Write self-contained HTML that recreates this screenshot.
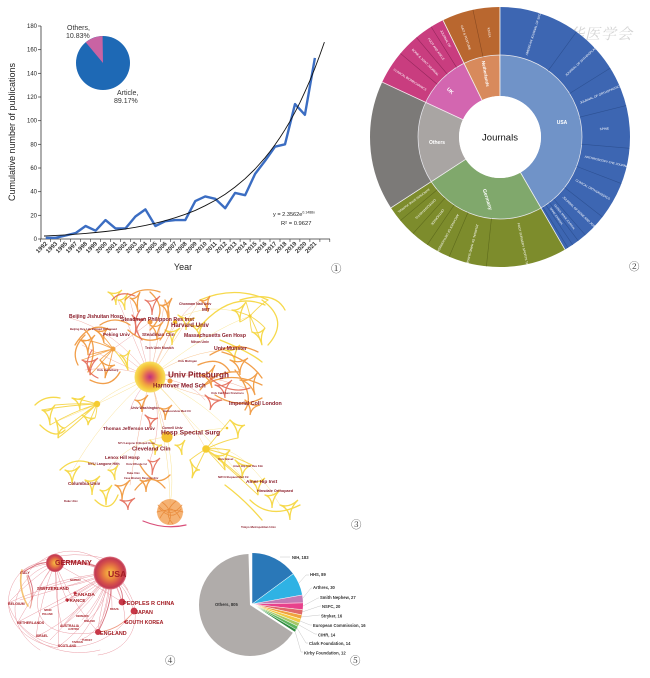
<!DOCTYPE html>
<html><head><meta charset="utf-8">
<style>
html,body{margin:0;padding:0;background:#fff;}
svg{display:block;font-family:"Liberation Sans","Noto Sans CJK SC",sans-serif;}
.t3 text{font-weight:bold;fill:#8b1e2b;}
.t4 text{font-weight:bold;fill:#a31d24;}
.t5 text{font-weight:bold;fill:#333;font-size:4.2px;}
.cd{font-family:"Liberation Serif","Noto Serif CJK SC",serif;font-size:10.5px;fill:#333;}
</style></head>
<body>
<svg width="650" height="678" viewBox="0 0 650 678" xmlns="http://www.w3.org/2000/svg">
<defs>
<radialGradient id="gBig" cx="50%" cy="50%" r="50%">
<stop offset="0" stop-color="#bf2f7c"/><stop offset="0.28" stop-color="#e0605e"/><stop offset="0.55" stop-color="#f0a040"/><stop offset="0.8" stop-color="#f5cb3e"/><stop offset="1" stop-color="#f8df66"/>
</radialGradient>
<radialGradient id="gCty" cx="50%" cy="50%" r="50%">
<stop offset="0" stop-color="#f7c24a"/><stop offset="0.35" stop-color="#ec8a3e"/><stop offset="0.7" stop-color="#d44e4a"/><stop offset="0.9" stop-color="#c23a52"/><stop offset="1" stop-color="#e07a86"/>
</radialGradient>
</defs>

<!-- ================= PANEL 1 ================= -->
<g>
<line x1="41" y1="26" x2="41" y2="239" stroke="#333" stroke-width="0.8"/>
<line x1="41" y1="239" x2="330" y2="239" stroke="#333" stroke-width="0.8"/>
<g stroke="#333" stroke-width="0.7">
<line x1="38" y1="239" x2="41" y2="239"/><line x1="38" y1="215.3" x2="41" y2="215.3"/><line x1="38" y1="191.7" x2="41" y2="191.7"/><line x1="38" y1="168" x2="41" y2="168"/><line x1="38" y1="144.3" x2="41" y2="144.3"/><line x1="38" y1="120.7" x2="41" y2="120.7"/><line x1="38" y1="97" x2="41" y2="97"/><line x1="38" y1="73.3" x2="41" y2="73.3"/><line x1="38" y1="49.7" x2="41" y2="49.7"/><line x1="38" y1="26" x2="41" y2="26"/>
</g>
<g stroke="#333" stroke-width="0.6">
<path d="M40.7 239v3M50.7 239v3M60.6 239v3M70.6 239v3M80.6 239v3M90.6 239v3M100.5 239v3M110.5 239v3M120.5 239v3M130.4 239v3M140.4 239v3M150.4 239v3M160.3 239v3M170.3 239v3M180.3 239v3M190.3 239v3M200.2 239v3M210.2 239v3M220.2 239v3M230.1 239v3M240.1 239v3M250.1 239v3M260 239v3M270 239v3M280 239v3M290 239v3M299.9 239v3M309.9 239v3M319.9 239v3M329.8 239v3"/>
</g>
<g font-size="6" fill="#222" text-anchor="end">
<text x="37" y="241">0</text><text x="37" y="217.3">20</text><text x="37" y="193.7">40</text><text x="37" y="170">60</text><text x="37" y="146.3">80</text><text x="37" y="122.7">100</text><text x="37" y="99">120</text><text x="37" y="75.3">140</text><text x="37" y="51.7">160</text><text x="37" y="28">180</text>
</g>
<g font-size="6" fill="#333" text-anchor="end" font-weight="bold">
<text transform="translate(47.7 244) rotate(-45)">1992</text>
<text transform="translate(57.7 244) rotate(-45)">1993</text>
<text transform="translate(67.6 244) rotate(-45)">1995</text>
<text transform="translate(77.6 244) rotate(-45)">1997</text>
<text transform="translate(87.6 244) rotate(-45)">1998</text>
<text transform="translate(97.6 244) rotate(-45)">1999</text>
<text transform="translate(107.5 244) rotate(-45)">2000</text>
<text transform="translate(117.5 244) rotate(-45)">2001</text>
<text transform="translate(127.5 244) rotate(-45)">2002</text>
<text transform="translate(137.4 244) rotate(-45)">2003</text>
<text transform="translate(147.4 244) rotate(-45)">2004</text>
<text transform="translate(157.4 244) rotate(-45)">2005</text>
<text transform="translate(167.3 244) rotate(-45)">2006</text>
<text transform="translate(177.3 244) rotate(-45)">2007</text>
<text transform="translate(187.3 244) rotate(-45)">2008</text>
<text transform="translate(197.3 244) rotate(-45)">2009</text>
<text transform="translate(207.2 244) rotate(-45)">2010</text>
<text transform="translate(217.2 244) rotate(-45)">2011</text>
<text transform="translate(227.2 244) rotate(-45)">2012</text>
<text transform="translate(237.1 244) rotate(-45)">2013</text>
<text transform="translate(247.1 244) rotate(-45)">2014</text>
<text transform="translate(257.1 244) rotate(-45)">2015</text>
<text transform="translate(267 244) rotate(-45)">2016</text>
<text transform="translate(277 244) rotate(-45)">2017</text>
<text transform="translate(287 244) rotate(-45)">2018</text>
<text transform="translate(297 244) rotate(-45)">2019</text>
<text transform="translate(306.9 244) rotate(-45)">2020</text>
<text transform="translate(316.9 244) rotate(-45)">2021</text>
</g>
<text transform="translate(15 132) rotate(-90)" font-size="9" fill="#222" text-anchor="middle">Cumulative number of publications</text>
<text x="183" y="270" font-size="9" fill="#222" text-anchor="middle">Year</text>
<polyline fill="none" stroke="#3b6dc2" stroke-width="2.4" stroke-linejoin="round" points="45.7,237.8 55.7,237.8 65.6,235.5 75.6,233.1 85.6,226 95.6,230.7 105.5,220.1 115.5,228.4 125.5,228.4 135.4,216.5 145.4,209.4 155.4,226 165.3,221.2 175.3,220.1 185.3,220.1 195.3,201.1 205.2,196.4 215.2,198.8 225.2,208.2 235.1,192.9 245.1,195.2 255.1,173.9 265,160.9 275,146.7 285,144.3 295,104.1 304.9,114.8 314.9,57.9"/>
<polyline fill="none" stroke="#111" stroke-width="0.9" points="44,236 45.7,235.9 55.7,235.4 65.6,234.9 75.6,234.2 85.6,233.4 95.6,232.5 105.5,231.5 115.5,230.3 125.5,228.9 135.4,227.3 145.4,225.4 155.4,223.2 165.3,220.7 175.3,217.7 185.3,214.3 195.3,210.4 205.2,205.7 215.2,200.4 225.2,194.2 235.1,187 245.1,178.7 255.1,169 265,157.8 270,151.5 275,144.8 280,137.5 285,129.7 290,121.3 295,112.2 300,102.4 304.9,91.8 310,80.3 314.9,68.2 319.9,54.9 324.4,42.1"/>
<text x="273" y="216" font-size="5.6" fill="#222">y = 2.3562e<tspan font-size="3.5" dy="-2.5">0.1488x</tspan></text>
<text x="281" y="225" font-size="5.8" fill="#222">R² = 0.9627</text>
<!-- inset pie -->
<circle cx="103" cy="63" r="27" fill="#1e69b5"/>
<circle cx="103" cy="63" r="13.5" fill="none" stroke="#c963a3" stroke-width="27" pathLength="360" stroke-dasharray="39 400" stroke-dashoffset="-321" transform="rotate(-90 103 63)"/>
<text x="67" y="30" font-size="7" fill="#333">Others,</text>
<text x="66" y="38" font-size="7" fill="#333">10.83%</text>
<text x="117" y="95" font-size="7" fill="#333">Article,</text>
<text x="114" y="103" font-size="7" fill="#333">89.17%</text>
<text x="331" y="272" class="cd">①</text>
</g>

<!-- ================= PANEL 2 sunburst ================= -->
<g>
<circle cx="533" cy="32" r="11" fill="none" stroke="#dcdcdc" stroke-width="0.8"/>
<circle cx="533" cy="32" r="7" fill="none" stroke="#e2e2e2" stroke-width="0.6"/>
<text x="553" y="39" font-size="15" fill="#d4d4d4" font-style="italic" font-family="'Noto Serif CJK SC',serif" letter-spacing="1">中华医学会</text>
<g fill="none" transform="rotate(-90 500 137)">
<circle cx="500" cy="137" r="61.5" pathLength="360" stroke="#7093c8" stroke-dasharray="150 400" stroke-dashoffset="0" stroke-width="41"/>
<circle cx="500" cy="137" r="61.5" pathLength="360" stroke="#80a86c" stroke-dasharray="87 400" stroke-dashoffset="-150" stroke-width="41"/>
<circle cx="500" cy="137" r="61.5" pathLength="360" stroke="#a9a5a3" stroke-dasharray="58 400" stroke-dashoffset="-237" stroke-width="41"/>
<circle cx="500" cy="137" r="61.5" pathLength="360" stroke="#d366b0" stroke-dasharray="39 400" stroke-dashoffset="-295" stroke-width="41"/>
<circle cx="500" cy="137" r="61.5" pathLength="360" stroke="#d88a5c" stroke-dasharray="26 400" stroke-dashoffset="-334" stroke-width="41"/>
<circle cx="500" cy="137" r="106" pathLength="360" stroke="#3d66b2" stroke-dasharray="150 400" stroke-dashoffset="0" stroke-width="48"/>
<circle cx="500" cy="137" r="106" pathLength="360" stroke="#7d8c2c" stroke-dasharray="87 400" stroke-dashoffset="-150" stroke-width="48"/>
<circle cx="500" cy="137" r="106" pathLength="360" stroke="#7c7a78" stroke-dasharray="58 400" stroke-dashoffset="-237" stroke-width="48"/>
<circle cx="500" cy="137" r="106" pathLength="360" stroke="#c93d7f" stroke-dasharray="39 400" stroke-dashoffset="-295" stroke-width="48"/>
<circle cx="500" cy="137" r="106" pathLength="360" stroke="#b9672f" stroke-dasharray="26 400" stroke-dashoffset="-334" stroke-width="48"/>
</g>
<circle cx="500" cy="137" r="82" fill="none" stroke="#e8e8ee" stroke-width="0.7"/>
<g stroke="#f2f2f2" stroke-width="0.8">
<line x1="500" y1="96" x2="500" y2="7" transform="rotate(0 500 137)"/>
<line x1="500" y1="96" x2="500" y2="7" transform="rotate(150 500 137)"/>
<line x1="500" y1="96" x2="500" y2="7" transform="rotate(237 500 137)"/>
<line x1="500" y1="96" x2="500" y2="7" transform="rotate(295 500 137)"/>
<line x1="500" y1="96" x2="500" y2="7" transform="rotate(334 500 137)"/>
</g>
<g stroke="#2c4f90" stroke-width="0.6" opacity="0.9">
<line x1="500" y1="55" x2="500" y2="7" transform="rotate(36 500 137)"/>
<line x1="500" y1="55" x2="500" y2="7" transform="rotate(58 500 137)"/>
<line x1="500" y1="55" x2="500" y2="7" transform="rotate(76 500 137)"/>
<line x1="500" y1="55" x2="500" y2="7" transform="rotate(95 500 137)"/>
<line x1="500" y1="55" x2="500" y2="7" transform="rotate(111 500 137)"/>
<line x1="500" y1="55" x2="500" y2="7" transform="rotate(128 500 137)"/>
<line x1="500" y1="55" x2="500" y2="7" transform="rotate(139 500 137)"/>
<line x1="500" y1="55" x2="500" y2="7" transform="rotate(143 500 137)"/>
<line x1="500" y1="55" x2="500" y2="7" transform="rotate(146 500 137)"/>
<line x1="500" y1="55" x2="500" y2="7" transform="rotate(148.5 500 137)"/>
</g>
<g stroke="#5e6b1c" stroke-width="0.6">
<line x1="500" y1="55" x2="500" y2="7" transform="rotate(186 500 137)"/>
<line x1="500" y1="55" x2="500" y2="7" transform="rotate(203 500 137)"/>
<line x1="500" y1="55" x2="500" y2="7" transform="rotate(214 500 137)"/>
<line x1="500" y1="55" x2="500" y2="7" transform="rotate(222 500 137)"/>
<line x1="500" y1="55" x2="500" y2="7" transform="rotate(230 500 137)"/>
</g>
<g stroke="#93265b" stroke-width="0.6">
<line x1="500" y1="55" x2="500" y2="7" transform="rotate(310 500 137)"/>
<line x1="500" y1="55" x2="500" y2="7" transform="rotate(320 500 137)"/>
<line x1="500" y1="55" x2="500" y2="7" transform="rotate(328 500 137)"/>
</g>
<line x1="500" y1="55" x2="500" y2="7" transform="rotate(348 500 137)" stroke="#8a4a20" stroke-width="0.6"/>
<circle cx="500" cy="137" r="41" fill="#fff"/>
<text x="500" y="140.5" font-size="9.5" fill="#111" text-anchor="middle">Journals</text>
<g fill="#fff" font-weight="bold" font-size="5">
<text x="562" y="124" text-anchor="middle">USA</text>
<text transform="translate(486 200) rotate(72)" text-anchor="middle">Germany</text>
<text x="437" y="144" text-anchor="middle">Others</text>
<text transform="translate(449 92) rotate(45)" text-anchor="middle">UK</text>
<text transform="translate(484 74) rotate(80)" text-anchor="middle" font-size="4.5">Netherlands</text>
</g>
<g fill="#fff" font-size="3.1">
<text transform="rotate(-72 500 137)" x="586" y="138">AMERICAN JOURNAL OF SPORTS</text>
<text transform="rotate(-43 500 137)" x="590" y="138">JOURNAL OF ARTHROPLASTY</text>
<text transform="rotate(-23 500 137)" x="587" y="138">JOURNAL OF ORTHOPAEDIC RESEARCH</text>
<text transform="rotate(-4.5 500 137)" x="600" y="138">SPINE</text>
<text transform="rotate(13 500 137)" x="587" y="138">ARTHROSCOPY-THE JOURNAL OF</text>
<text transform="rotate(29.5 500 137)" x="587" y="138">CLINICAL ORTHOPAEDICS</text>
<text transform="rotate(43.5 500 137)" x="587" y="138">JOURNAL OF BONE AND JOINT</text>
<text transform="rotate(51 500 137)" x="587" y="138" font-size="2.6">GLOBAL SPINE JOURNAL</text>
<text transform="rotate(54.5 500 137)" x="587" y="138" font-size="2.6">SPINE JOURNAL</text>
<text transform="rotate(78 500 137)" x="588" y="138">FOOT SURGERY SPORTS TRAUMATOL</text>
<text transform="rotate(104.5 500 137)" x="590" y="138">JOURNAL OF HAND SURGERY</text>
<text transform="rotate(118.5 500 137)" x="588" y="138">ARCHIVES OF ORTHOPAEDIC</text>
<text transform="rotate(128 500 137)" x="592" y="138">ORTHOPADE</text>
<text transform="rotate(136 500 137)" x="590" y="138">OSTEOARTHRITIS</text>
<text transform="rotate(143.5 500 137)" x="588" y="138" font-size="2.8">EUROPEAN SPINE JOURNAL</text>
<text transform="rotate(392.5 500 137)" x="374" y="138">CLINICAL BIOMECHANICS</text>
<text transform="rotate(405 500 137)" x="376" y="138">BONE &amp; JOINT JOURNAL</text>
<text transform="rotate(414 500 137)" x="378" y="138">FOOT AND ANKLE</text>
<text transform="rotate(421 500 137)" x="378" y="138">JOURNAL OF</text>
<text transform="rotate(431 500 137)" x="382" y="138">GAIT &amp; POSTURE</text>
<text transform="rotate(444 500 137)" x="390" y="138">KSSTA</text>
</g>
<text x="629" y="270" class="cd">②</text>
</g>

<!-- ================= PANEL 3 network ================= -->
<g fill="none" stroke-linecap="round">
<g stroke-width="0.5" opacity="0.55">
<path d="M150,377 Q130,360 113,349" stroke="#e06a6a"/>
<path d="M150,377 Q150,350 150,322" stroke="#e06a6a"/>
<path d="M150,377 Q165,345 175,320" stroke="#f0a040"/>
<path d="M150,377 Q185,370 215,378" stroke="#e66a5c"/>
<path d="M150,377 Q120,385 97,404" stroke="#f5c840"/>
<path d="M150,377 Q160,410 167,437" stroke="#e98060"/>
<path d="M150,377 Q185,410 206,449" stroke="#f2b048"/>
<path d="M150,377 Q195,395 227,428" stroke="#f5d040"/>
<path d="M150,377 Q210,330 250,316" stroke="#f5d040"/>
<path d="M150,377 Q200,370 245,388" stroke="#e87050"/>
<path d="M150,377 Q135,395 130,410" stroke="#d95a7a"/>
<path d="M150,377 Q120,365 85,370" stroke="#e87060"/>
<path d="M150,377 Q110,360 82,345" stroke="#e87060"/>
<path d="M150,377 Q140,340 130,300" stroke="#e06a6a"/>
<path d="M150,377 Q175,340 200,300" stroke="#f0a040"/>
<path d="M150,377 Q190,350 230,350" stroke="#f29a3a"/>
<path d="M150,377 Q165,420 150,460" stroke="#e06060"/>
<path d="M150,377 Q170,450 170,505" stroke="#f4c440"/>
<path d="M167,437 Q175,475 170,505" stroke="#f5d040"/>
<path d="M150,377 Q100,420 70,475" stroke="#f5c840"/>
<path d="M150,377 Q115,330 70,318" stroke="#e87060"/>
<path d="M150,377 Q180,300 210,297" stroke="#e87060"/>
<path d="M113,349 Q140,330 150,322" stroke="#e06a6a"/>
<path d="M167,437 Q130,440 108,470" stroke="#f5c840"/>
<path d="M206,449 Q240,440 280,505" stroke="#f5d040"/>
<path d="M167,437 Q200,430 227,428" stroke="#f5d040"/>
<path d="M175,320 Q210,300 250,316" stroke="#f5d040"/>
<path d="M150,377 Q190,380 205,400" stroke="#e06a6a"/>
<path d="M150,377 Q130,330 118,300" stroke="#e06a6a"/>
<path d="M150,377 Q160,330 165,300" stroke="#e87a50"/>
<path d="M150,377 Q200,400 255,405" stroke="#f09040"/>
<path d="M150,377 Q140,420 130,485" stroke="#e87a50"/>
<path d="M150,377 Q110,400 60,420" stroke="#f5c840"/>
<path d="M150,377 Q200,430 245,480" stroke="#f5d040"/>
</g>
<g stroke="#f29a3a" stroke-width="0.9" opacity="0.85">
<path d="M113,349 Q95,340 80,340M113,349 Q100,352 88,355M113,349 Q96,355 82,360M113,349 Q100,365 90,375M113,349 Q104,335 95,330M113,349 Q108,345 104,343M113,349 Q105,355 100,360M113,349 Q110,365 105,378"/>
</g>
<g stroke="#f5d33f" stroke-width="0.9" opacity="0.9">
<path d="M113,349 Q122,358 128,370M250,316 Q240,312 232,310M250,316 Q244,320 240,322M250,316 Q250,325 252,332M250,316 Q258,332 262,345M250,316 Q260,322 265,328M250,316 Q248,308 246,302M250,316 Q260,305 268,300"/>
<path d="M97,404 Q70,405 42,410M97,404 Q72,412 50,425M97,404 Q75,403 55,405M97,404 Q84,400 72,398M97,404 Q88,408 80,410M97,404 Q88,412 82,415M97,404 Q92,416 88,425M97,404 Q97,412 95,418M97,404 Q78,418 65,428M97,404 Q75,425 58,438"/>
<path d="M206,449 Q210,452 215,455M206,449 Q218,462 225,470M206,449 Q218,448 230,450M206,449 Q228,465 242,478M206,449 Q232,455 252,465M206,449 Q196,455 190,460M206,449 Q198,465 192,478M206,449 Q220,432 230,420M206,449 Q225,440 238,438M206,449 Q232,470 258,495"/>
</g>
<!-- yellow fans -->
<g stroke="#f6d743" stroke-width="1.3" opacity="0.95">
<path d="M108,292Q115.3,295.7 122,290Q115.3,295.7 116,305Q115.3,295.7 108,292"/>
<path d="M118,300Q123.7,301 128,293Q123.7,301 125,310Q123.7,301 118,300"/>
<path d="M165,330Q172.3,334.3 180,328Q172.3,334.3 172,345Q172.3,334.3 165,330"/>
<path d="M178,315Q186.3,321 195,318Q186.3,321 186,330Q186.3,321 178,315"/>
<path d="M190,325Q198.3,328.3 205,322Q198.3,328.3 200,338Q198.3,328.3 190,325"/>
<path d="M232,310Q239.3,311.3 246,302Q239.3,311.3 240,322Q239.3,311.3 232,310"/>
<path d="M252,332Q259.7,335 265,328Q259.7,335 262,345Q259.7,335 252,332"/>
<path d="M225,350Q233.3,352.3 240,345Q233.3,352.3 235,362Q233.3,352.3 225,350"/>
<path d="M120,355Q126,358.3 130,350Q126,358.3 128,370Q126,358.3 120,355"/>
<path d="M42,410Q49,413.3 55,405Q49,413.3 50,425Q49,413.3 42,410"/>
<path d="M55,418Q59.3,428 65,428Q59.3,428 58,438Q59.3,428 55,418"/>
<path d="M72,398Q79,401.3 85,396Q79,401.3 80,410Q79,401.3 72,398"/>
<path d="M82,415Q88.3,419.3 95,418Q88.3,419.3 88,425Q88.3,419.3 82,415"/>
<path d="M150,440Q155.7,446.7 162,445Q155.7,446.7 155,455Q155.7,446.7 150,440"/>
<path d="M175,445Q180.7,446.7 185,440Q180.7,446.7 182,455Q180.7,446.7 175,445"/>
<path d="M65,470Q72.3,473.7 80,466Q72.3,473.7 72,485Q72.3,473.7 65,470"/>
<path d="M85,480Q92.3,483.7 100,476Q92.3,483.7 92,495Q92.3,483.7 85,480"/>
<path d="M100,490Q106,493.3 112,485Q106,493.3 106,505Q106,493.3 100,490"/>
<path d="M108,470Q113.7,471.7 118,465Q113.7,471.7 115,480Q113.7,471.7 108,470"/>
<path d="M215,455Q223.3,458.3 230,450Q223.3,458.3 225,470Q223.3,458.3 215,455"/>
<path d="M235,460Q243,467.7 252,465Q243,467.7 242,478Q243,467.7 235,460"/>
<path d="M250,480Q257.7,484.3 265,478Q257.7,484.3 258,495Q257.7,484.3 250,480"/>
<path d="M265,495Q272.3,497.7 280,490Q272.3,497.7 272,508Q272.3,497.7 265,495"/>
<path d="M280,505Q289.3,508.3 298,500Q289.3,508.3 290,520Q289.3,508.3 280,505"/>
<path d="M190,460Q194,469.3 200,470Q194,469.3 192,478Q194,469.3 190,460"/>
<path d="M230,420Q237.7,427.7 245,425Q237.7,427.7 238,438Q237.7,427.7 230,420"/>
<path d="M197,330 Q230,290 265,305M220,340 Q250,352 262,362M200,300 Q235,285 268,300"/>
<path d="M240,300 Q275,290 285,310M262,300 Q290,320 268,345M35,405 Q45,395 60,398M40,425 Q55,440 65,430M60,470 Q75,455 95,465M95,500 Q110,515 118,495M250,500 Q270,520 300,505M225,485 Q245,500 262,520"/>
</g>
<!-- orange -->
<g stroke="#f09538" stroke-width="1.3" opacity="0.9">
<path d="M130,298Q136,300.7 140,292Q136,300.7 138,312Q136,300.7 130,298"/>
<path d="M160,305Q166.7,307 172,298Q166.7,307 168,318Q166.7,307 160,305"/>
<path d="M150,325Q156.7,329 163,322Q156.7,329 157,340Q156.7,329 150,325"/>
<path d="M200,300Q206,302.7 210,296Q206,302.7 208,312Q206,302.7 200,300"/>
<path d="M200,375Q209,376 215,365Q209,376 212,388Q209,376 200,375"/>
<path d="M230,360Q239.3,364.3 248,358Q239.3,364.3 240,375Q239.3,364.3 230,360"/>
<path d="M240,380Q251,382.3 258,372Q251,382.3 255,395Q251,382.3 240,380"/>
<path d="M245,400Q251.7,406.7 260,405Q251.7,406.7 250,415Q251.7,406.7 245,400"/>
<path d="M80,340Q87.7,343.3 95,335Q87.7,343.3 88,355Q87.7,343.3 80,340"/>
<path d="M100,360Q106.7,367.7 115,365Q106.7,367.7 105,378Q106.7,367.7 100,360"/>
<path d="M95,330Q102.3,333.7 108,328Q102.3,333.7 104,343Q102.3,333.7 95,330"/>
<path d="M135,400Q141.7,402.3 148,395Q141.7,402.3 142,412Q141.7,402.3 135,400"/>
<path d="M160,408Q165.7,411 172,405Q165.7,411 165,420Q165.7,411 160,408"/>
<path d="M140,480Q146,483.3 152,478Q146,483.3 146,492Q146,483.3 140,480"/>
<path d="M115,485Q122.3,488.3 130,480Q122.3,488.3 122,500Q122.3,488.3 115,485"/>
<path d="M210,355 Q235,340 258,352M205,385 Q230,370 262,385M215,395 Q240,410 262,398"/>
<path d="M75,345 Q90,320 110,330M78,365 Q70,350 85,335M90,380 Q110,390 120,372M100,325 Q115,315 130,325M85,330 Q100,345 88,372"/>
<path d="M125,300 Q140,285 160,292M160,340 Q175,320 165,300M150,292 Q170,310 150,330M128,330 Q145,345 160,338"/>
<path d="M198,365 Q220,355 230,372M235,370 Q255,395 245,410M200,390 Q215,370 240,372M222,352 Q250,360 262,378"/>
<path d="M140,465 Q155,490 170,475M135,490 Q150,470 165,488"/>
</g>
<!-- red -->
<g stroke="#e2604c" stroke-width="1.2" opacity="0.85">
<path d="M145,300Q152.3,303.7 160,296Q152.3,303.7 152,315Q152.3,303.7 145,300"/>
<path d="M132,315Q137.3,322.7 145,318Q137.3,322.7 135,335Q137.3,322.7 132,315"/>
<path d="M215,385Q224,387.7 232,380Q224,387.7 225,398Q224,387.7 215,385"/>
<path d="M205,395Q212.3,401.7 222,400Q212.3,401.7 210,410Q212.3,401.7 205,395"/>
<path d="M82,360Q90,364.3 98,358Q90,364.3 90,375Q90,364.3 82,360"/>
<path d="M145,415Q151,420.3 158,418Q151,420.3 150,428Q151,420.3 145,415"/>
<path d="M148,460Q153.3,464.3 160,458Q153.3,464.3 152,475Q153.3,464.3 148,460"/>
<path d="M120,500Q127.7,502.7 135,498Q127.7,502.7 128,510Q127.7,502.7 120,500"/>
<path d="M112,300 Q120,290 135,296M92,350 Q80,370 98,378M140,310 Q130,325 142,340M210,378 Q230,395 250,388"/>
</g>
<circle cx="170" cy="512" r="13" fill="#f3a45a" stroke="none" opacity="0.85"/>
<g stroke="#e88838" stroke-width="0.8" opacity="0.9">
<path d="M158,505 Q170,520 182,505M160,518 Q170,500 180,518M162,502 Q175,512 168,524M176,501 Q162,512 173,524M157,512 Q170,508 183,512M159,508 Q172,522 181,509"/>
</g>
<path d="M143,521 Q165,530 186,525" stroke="#d9507a" stroke-width="1.2"/>
</g>
<circle cx="150" cy="377" r="15.5" fill="url(#gBig)"/>
<circle cx="113" cy="349" r="2.5" fill="#f0a040"/>
<circle cx="97" cy="404" r="3.2" fill="#f5cc30"/>
<circle cx="167" cy="437" r="5.5" fill="#f4c232"/>
<circle cx="206" cy="449" r="3.8" fill="#f5cc30"/>
<circle cx="250" cy="316" r="1.6" fill="#f5cc30"/>
<circle cx="227" cy="428" r="1.3" fill="#f5cc30"/>
<circle cx="170" cy="381" r="2.5" fill="#f09a40"/>
<circle cx="150" cy="322" r="2.5" fill="#f09a40"/>
<circle cx="175" cy="322" r="2.2" fill="#f5c030"/>
<g class="t3">
<text x="179" y="305" font-size="3.5">Chonnam Natl Univ</text>
<text x="202" y="311" font-size="4.6">MIT</text>
<text x="69" y="318" font-size="5">Beijing Jishuitan Hosp</text>
<text x="121" y="321" font-size="5.3">Steadman Philippon Res Inst</text>
<text x="171" y="327" font-size="6.1">Harvard Univ</text>
<text x="70" y="330" font-size="2.8">Beijing Key Lab Biomed Orthopaed</text>
<text x="103" y="336" font-size="4.7">Peking Univ</text>
<text x="142" y="336" font-size="4.7">Steadman Clin</text>
<text x="184" y="337" font-size="5.1">Massachusetts Gen Hosp</text>
<text x="191" y="343" font-size="3.4">Nihon Univ</text>
<text x="145" y="349" font-size="3.4">Tech Univ Munich</text>
<text x="214" y="350" font-size="5.2">Univ Munster</text>
<text x="178" y="362" font-size="2.8">Univ Michigan</text>
<text x="97" y="371" font-size="2.8">Univ Heidelberg</text>
<text x="168" y="377.5" font-size="8.2">Univ Pittsburgh</text>
<text x="153" y="387.5" font-size="6">Harnover Med Sch</text>
<text x="211" y="394" font-size="2.8">Univ Calif San Francisco</text>
<text x="229" y="405" font-size="5.3">Imperial Coll London</text>
<text x="131" y="409" font-size="3.5">Univ Washington</text>
<text x="163" y="412" font-size="2.8">Harbourview Med Ctr</text>
<text x="103" y="430" font-size="4.7">Thomas Jefferson Univ</text>
<text x="162" y="429" font-size="3.5">Cornell Univ</text>
<text x="161" y="434.5" font-size="6.7">Hosp Special Surg</text>
<text x="118" y="444" font-size="2.6">NYU Langone Orthoped Hosp</text>
<text x="132" y="450.5" font-size="5.6">Cleveland Clin</text>
<text x="105" y="459" font-size="4.6">Lenox Hill Hosp</text>
<text x="88" y="465" font-size="3.6">NYU Langone Hlth</text>
<text x="126" y="465" font-size="3">Univ Rhode Isl</text>
<text x="127" y="474" font-size="2.6">Duke Univ</text>
<text x="124" y="479" font-size="2.6">Case Western Reserve Univ</text>
<text x="68" y="485" font-size="4.6">Columbia Univ</text>
<text x="218" y="460" font-size="3">Univ Basel</text>
<text x="233" y="467" font-size="2.8">Amer Hip Inst Res Fdn</text>
<text x="218" y="478" font-size="2.8">NW Orthopaed Med Ctr</text>
<text x="246" y="483" font-size="4.8">Amer Hip Inst</text>
<text x="257" y="492" font-size="3.8">Hinsdale Orthopaed</text>
<text x="64" y="502" font-size="2.8">Duke Univ</text>
<text x="241" y="528" font-size="3">Tokyo Metropolitan Univ</text>
</g>
<text x="351" y="528" class="cd">③</text>

<!-- ================= PANEL 4 countries ================= -->
<g fill="none" stroke-linecap="round">
<g stroke="#d84a5a" stroke-width="0.5" opacity="0.55">
<path d="M110,573 Q82,555 55,563M110,573 Q65,552 21,572M110,573 Q75,575 40,588M110,573 Q60,580 8,603M110,573 Q60,600 18,622M110,573 Q90,585 67,600M110,573 Q95,580 75,593M110,573 Q90,605 62,627M110,573 Q80,615 36,637M110,573 Q95,620 58,647M110,573 Q108,605 98,632M110,573 Q100,615 75,643M110,573 Q118,590 122,602M110,573 Q128,590 134,611M110,573 Q125,600 125,622M110,573 Q112,595 112,609M110,573 Q80,595 45,611"/>
<path d="M110,573 Q85,560 55,563M110,573 Q70,590 40,588M110,573 Q75,610 62,627M110,573 Q98,620 98,632M110,573 Q88,595 67,600M110,573 Q55,590 20,600M110,573 Q70,620 50,640M110,573 Q100,600 82,620M110,573 Q105,610 85,622M110,573 Q110,630 80,640"/>
<path d="M55,563 Q35,560 21,572M55,563 Q45,575 40,588M55,563 Q30,580 8,603M55,563 Q30,600 18,622M55,563 Q60,585 67,600M55,563 Q70,600 98,632M55,563 Q55,600 62,627M55,563 Q40,600 36,637M55,563 Q60,620 58,647M55,563 Q95,585 122,602"/>
<path d="M21,572 C-5,600 10,640 58,648M55,563 C10,575 0,625 40,650M110,573 C150,600 140,650 98,655M8,603 C20,640 60,660 100,650M18,622 C40,650 90,660 125,622M40,588 C30,620 50,640 98,632M21,572 Q60,545 110,560M30,570 C60,540 100,545 128,590"/>
</g>
<g stroke="#c83848" stroke-width="0.9" opacity="0.7">
<path d="M110,573 Q85,558 55,563M110,573 Q115,600 98,632M55,563 Q40,560 24,572M28,575 Q35,590 32,600M110,573 Q125,590 122,602"/>
</g>
<path d="M22,570 C18,585 24,600 28,606" stroke="#f2b450" stroke-width="1.6" opacity="0.8"/>
<path d="M27,576 C30,588 34,598 30,608" stroke="#e07060" stroke-width="1.2" opacity="0.6"/>
<path d="M98,632 Q120,630 134,611" stroke="#e87050" stroke-width="0.8" opacity="0.7"/>
</g>
<circle cx="110" cy="573" r="16.5" fill="url(#gCty)"/>
<circle cx="55" cy="563" r="9" fill="url(#gCty)"/>
<circle cx="122" cy="602" r="3.4" fill="#c83848"/>
<circle cx="134" cy="611" r="3.4" fill="#c83848"/>
<circle cx="98" cy="632" r="3" fill="#c83848"/>
<circle cx="67" cy="600" r="1.6" fill="#c83848"/>
<circle cx="75" cy="593" r="1.5" fill="#c83848"/>
<circle cx="125" cy="622" r="1.2" fill="#c83848"/>
<g class="t4">
<text x="55" y="565" font-size="7.2">GERMANY</text>
<text x="108" y="577" font-size="8.7">USA</text>
<text x="123" y="605" font-size="5.6">PEOPLES R CHINA</text>
<text x="135" y="614" font-size="5.4">JAPAN</text>
<text x="125" y="624" font-size="5.2">SOUTH KOREA</text>
<text x="100" y="635" font-size="5.4">ENGLAND</text>
<text x="74" y="596" font-size="4.8">CANADA</text>
<text x="67" y="602" font-size="4.4">FRANCE</text>
<text x="37" y="590" font-size="4.4">SWITZERLAND</text>
<text x="20" y="574" font-size="3.6">ITALY</text>
<text x="8" y="605" font-size="3.6">BELGIUM</text>
<text x="17" y="624" font-size="3.6">NETHERLANDS</text>
<text x="60" y="627" font-size="3.3">AUSTRALIA</text>
<text x="36" y="637" font-size="3.3">ISRAEL</text>
<text x="58" y="647" font-size="3.3">SCOTLAND</text>
<text x="72" y="643" font-size="2.8">TAIWAN</text>
<text x="70" y="581" font-size="2.5">NORWAY</text>
<text x="110" y="610" font-size="2.5">BRAZIL</text>
<text x="44" y="611" font-size="2.5">SPAIN</text>
<text x="42" y="615" font-size="2.5">POLAND</text>
<text x="76" y="617" font-size="2.5">DENMARK</text>
<text x="84" y="622" font-size="2.5">FINLAND</text>
<text x="68" y="630" font-size="2.5">AUSTRIA</text>
<text x="82" y="641" font-size="2.5">TURKEY</text>
</g>
<text x="165" y="664" class="cd">④</text>

<!-- ================= PANEL 5 pie ================= -->
<g>
<circle cx="250" cy="605" r="25.5" fill="none" stroke="#b0acaa" stroke-width="51" pathLength="360" stroke-dasharray="236.4 400" stroke-dashoffset="-123.6" transform="rotate(-90 250 605)"/>
<g transform="translate(2 -1)">
<g fill="none" stroke-width="51" transform="rotate(-90 250 605)">
<circle cx="250" cy="605" r="25.5" pathLength="360" stroke="#2a78b8" stroke-dasharray="53.7 400" stroke-dashoffset="0"/>
<circle cx="250" cy="605" r="25.5" pathLength="360" stroke="#2fb2e4" stroke-dasharray="26.2 400" stroke-dashoffset="-53.7"/>
<circle cx="250" cy="605" r="25.5" pathLength="360" stroke="#c27ab5" stroke-dasharray="8.8 400" stroke-dashoffset="-79.9"/>
<circle cx="250" cy="605" r="25.5" pathLength="360" stroke="#e8418c" stroke-dasharray="7.9 400" stroke-dashoffset="-88.7"/>
<circle cx="250" cy="605" r="25.5" pathLength="360" stroke="#e0686a" stroke-dasharray="5.9 400" stroke-dashoffset="-96.6"/>
<circle cx="250" cy="605" r="25.5" pathLength="360" stroke="#f0a23e" stroke-dasharray="4.7 400" stroke-dashoffset="-102.5"/>
<circle cx="250" cy="605" r="25.5" pathLength="360" stroke="#f3ca44" stroke-dasharray="4.7 400" stroke-dashoffset="-107.2"/>
<circle cx="250" cy="605" r="25.5" pathLength="360" stroke="#a9c763" stroke-dasharray="4.1 400" stroke-dashoffset="-111.9"/>
<circle cx="250" cy="605" r="25.5" pathLength="360" stroke="#5db55a" stroke-dasharray="4.1 400" stroke-dashoffset="-116"/>
<circle cx="250" cy="605" r="25.5" pathLength="360" stroke="#2e8a40" stroke-dasharray="3.5 400" stroke-dashoffset="-120.1"/>
</g>
<g stroke="#fff" stroke-width="0.5">
<line x1="250" y1="605" x2="250" y2="554"/>
<line x1="250" y1="605" x2="250" y2="554" transform="rotate(53.7 250 605)"/>
<line x1="250" y1="605" x2="250" y2="554" transform="rotate(79.9 250 605)"/>
<line x1="250" y1="605" x2="250" y2="554" transform="rotate(88.7 250 605)"/>
<line x1="250" y1="605" x2="250" y2="554" transform="rotate(96.6 250 605)"/>
<line x1="250" y1="605" x2="250" y2="554" transform="rotate(102.5 250 605)"/>
<line x1="250" y1="605" x2="250" y2="554" transform="rotate(107.2 250 605)"/>
<line x1="250" y1="605" x2="250" y2="554" transform="rotate(111.9 250 605)"/>
<line x1="250" y1="605" x2="250" y2="554" transform="rotate(116 250 605)"/>
<line x1="250" y1="605" x2="250" y2="554" transform="rotate(120.1 250 605)"/>
<line x1="250" y1="605" x2="250" y2="554" transform="rotate(123.6 250 605)"/>
</g>
</g>
<g fill="none" stroke="#b8b8b8" stroke-width="0.4">
<path d="M280,557 H290"/>
<path d="M299,583 L306,575 H309"/>
<path d="M303,598 L311,588 H312"/>
<path d="M303,606 L318,598 H319"/>
<path d="M302,612 L320,606 H321"/>
<path d="M301,617 L320,615"/>
<path d="M300,621 L310,625 H312"/>
<path d="M299,625 L315,634 H317"/>
<path d="M297,628 L306,643 H308"/>
<path d="M295,631 L301,652 H303"/>
</g>
<g class="t5">
<text x="292" y="559">NIH, 183</text>
<text x="310" y="576">HHS, 89</text>
<text x="313" y="589">Arthrex, 30</text>
<text x="320" y="599">Smith Nephew, 27</text>
<text x="322" y="608">NSFC, 20</text>
<text x="321" y="617.5">Stryker, 16</text>
<text x="313" y="627">European Commission, 16</text>
<text x="318" y="636.5">CIHR, 14</text>
<text x="309" y="645">Clark Foundation, 14</text>
<text x="304" y="654.5">Kirby Foundation, 12</text>
<text x="215" y="606">Others, 805</text>
</g>
<text x="350" y="664" class="cd">⑤</text>
</g>
</svg>
</body></html>
